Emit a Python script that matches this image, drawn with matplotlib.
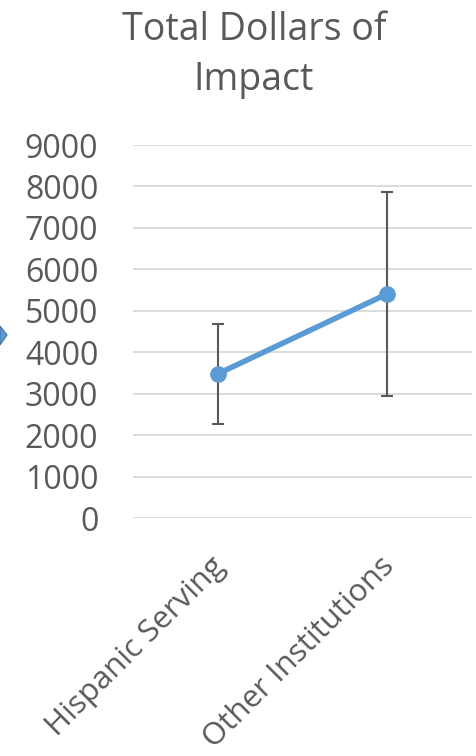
import matplotlib.pyplot as plt
from matplotlib.patches import Polygon

# data
categories = ['Hispanic Serving', 'Other Institutions']
impact = [3480, 5410]
err_low = [2270, 2950]
err_high = [4680, 7875]
yticks = [0, 1000, 2000, 3000, 4000, 5000, 6000, 7000, 8000, 9000]

plt.rcParams['font.family'] = ['Open Sans', 'DejaVu Sans']
text_col = '#595959'
blue = '#5B9BD5'

fig = plt.figure(figsize=(4.77, 7.56), dpi=100)
ax = fig.add_axes([0.279, 0.3148, 0.711, 0.4934])

x = list(range(len(categories)))
yerr = [[v - lo for v, lo in zip(impact, err_low)],
        [hi - v for v, hi in zip(impact, err_high)]]
ax.errorbar(x, impact, yerr=yerr, fmt='none', ecolor=text_col,
            elinewidth=1.5, capsize=4, capthick=1.5, zorder=2)
ax.plot(x, impact, '-o', color=blue, linewidth=4, markersize=11, zorder=3)

ax.set_xlim(-0.5, 1.5)
ax.set_ylim(0, 9000)
ax.set_yticks(yticks)
ax.set_yticklabels([str(t) for t in yticks], fontsize=23, color=text_col)
ax.set_xticks(x)
ax.set_xticklabels(categories, rotation=45, ha='right', va='center_baseline',
                   rotation_mode='anchor', fontsize=22.5, color=text_col)
ax.tick_params(axis='y', length=0, pad=25)
ax.tick_params(axis='x', length=0, pad=30)
ax.grid(axis='y', color='#D9D9D9', linewidth=1.3)
ax.set_axisbelow(True)
for s in ax.spines.values():
    s.set_visible(False)

# title sits a bit left of the plot centre
fig.text(254 / 477, 1 - 11 / 756, 'Total Dollars of\nImpact', fontsize=27,
         color=text_col, ha='center', va='top', linespacing=1.4)

# little blue chevron cut off on the left edge
fig.patches.append(Polygon([[0, 0.5688], [0.0147, 0.5569], [0, 0.5437]],
                           closed=True, transform=fig.transFigure,
                           facecolor=blue, edgecolor='#41719C', linewidth=0.8))

fig.savefig('out.png', dpi=100)
